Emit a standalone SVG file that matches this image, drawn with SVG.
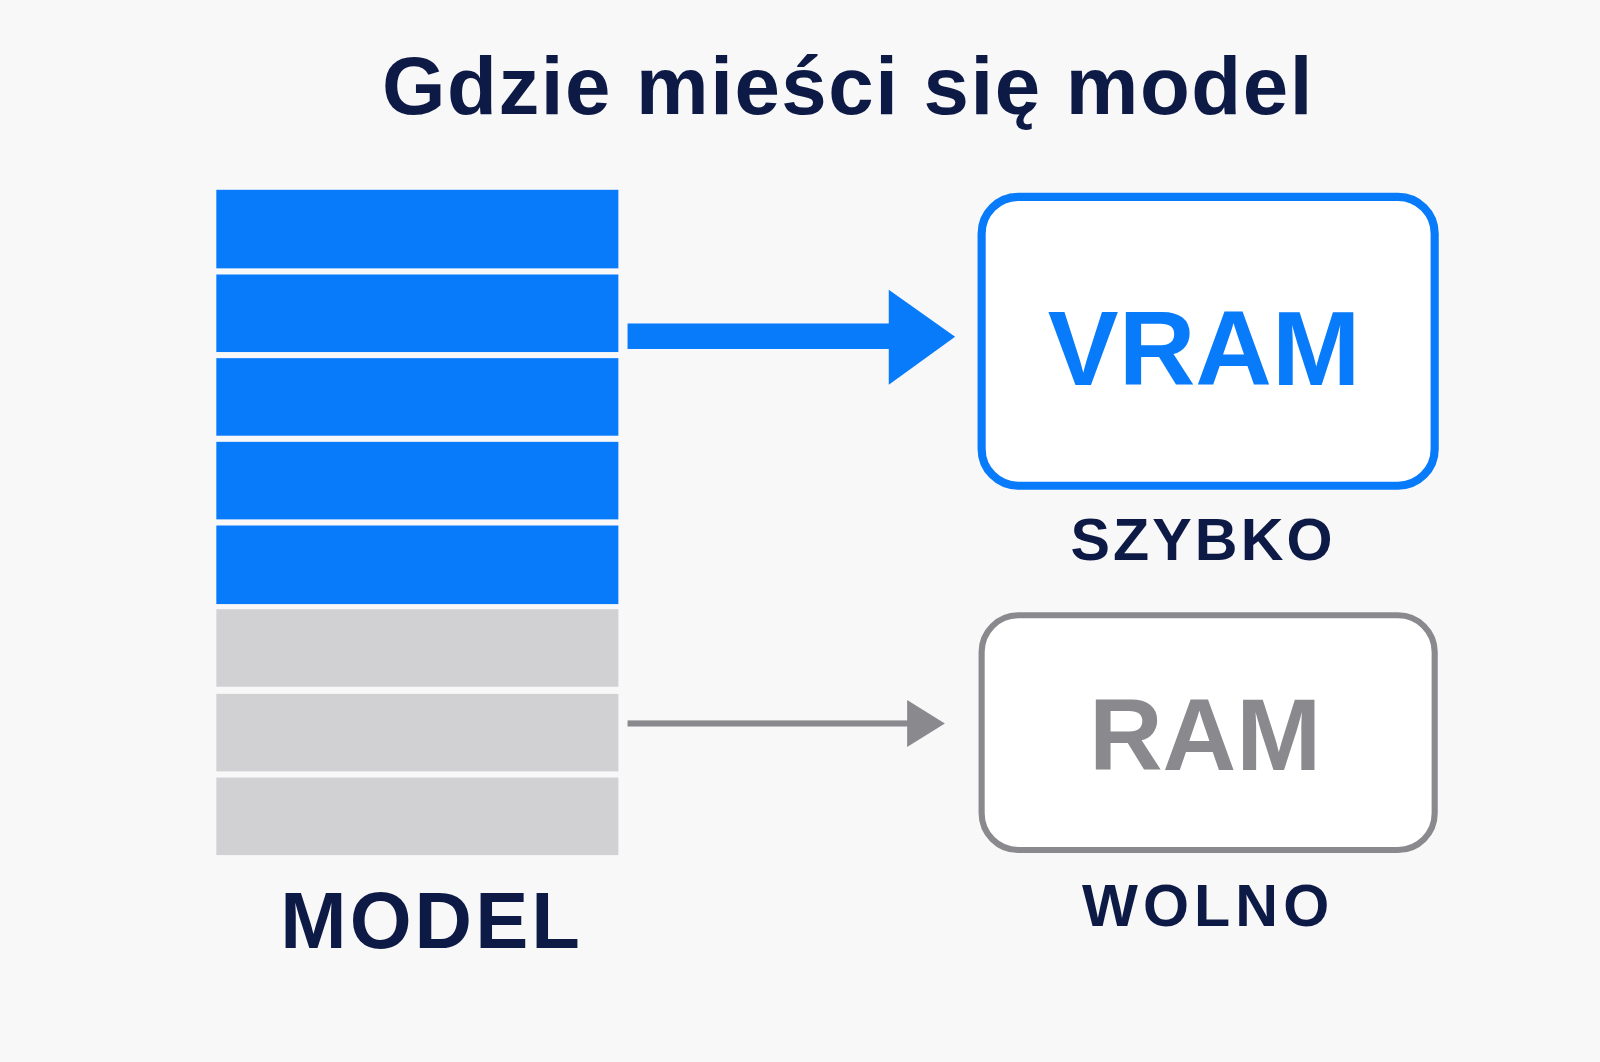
<svg xmlns="http://www.w3.org/2000/svg" width="1600" height="1062" viewBox="0 0 1600 1062">
<style>
.t{font-family:"Liberation Sans",Arial,sans-serif;font-weight:bold;text-anchor:middle}
.b{fill:#087bfb}.g{fill:#d1d1d4}
</style>
<rect width="1600" height="1062" fill="#f8f8f9"/>
<g transform="scale(1.0204)">
<text class="t" x="831" y="112" font-size="80" letter-spacing="1.5" fill="#0d1a45">Gdzie mieści się model</text>
<g id="model">
<rect class="b" x="212" y="186" width="394" height="77"/>
<rect class="b" x="212" y="269" width="394" height="76"/>
<rect class="b" x="212" y="351" width="394" height="76"/>
<rect class="b" x="212" y="433" width="394" height="76"/>
<rect class="b" x="212" y="515" width="394" height="77"/>
<rect class="g" x="212" y="597" width="394" height="76"/>
<rect class="g" x="212" y="680" width="394" height="76"/>
<rect class="g" x="212" y="762" width="394" height="76"/>
<text class="t" x="423" y="929" font-size="78" letter-spacing="3" fill="#0d1a45">MODEL</text>
</g>
<g id="vram">
<rect x="962" y="193" width="444" height="283" rx="36" fill="#fff" stroke="#087bfb" stroke-width="8"/>
<text class="t" x="1180" y="377" font-size="104" fill="#087bfb">VRAM</text>
<text class="t" x="1179" y="549" font-size="58" letter-spacing="3" fill="#0d1a45">SZYBKO</text>
</g>
<g id="ram">
<rect x="962" y="603" width="444" height="230" rx="36" fill="#fff" stroke="#8a8a8e" stroke-width="6"/>
<text class="t" x="1181" y="755" font-size="100" fill="#8a8a8e">RAM</text>
<text class="t" x="1184" y="907" font-size="58" letter-spacing="5" fill="#0d1a45">WOLNO</text>
</g>
<g id="connectors">
<rect x="615" y="317" width="258" height="25" fill="#087bfb"/>
<polygon points="871,284 936,330 871,377" fill="#087bfb"/>
<rect x="615" y="706" width="276" height="6" fill="#8a8a8e"/>
<polygon points="889,686 926,709 889,732" fill="#8a8a8e"/>
</g>
</g>
</svg>
